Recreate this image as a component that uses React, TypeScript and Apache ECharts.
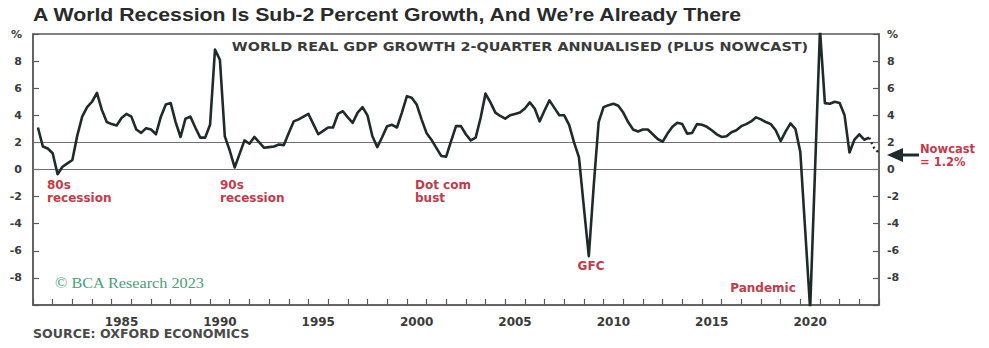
import React, { useEffect, useRef } from "react";
import * as echarts from "echarts";

// World real GDP growth, 2-quarter annualised (%), quarterly from 1981 Q2
const firstQuarter = 1981.25;
const growth1980s = [
  3.1, 1.7, 1.55,
  1.2, -0.35, 0.2, 0.45,
  0.7, 2.5, 3.9, 4.6,
  5.0, 5.65, 4.4, 3.5,
  3.35, 3.25, 3.8, 4.1,
  3.9, 2.95, 2.7, 3.05,
  2.95, 2.6, 3.9, 4.8,
  4.9, 3.5, 2.4, 3.75,
  3.9, 3.1, 2.35, 2.35,
];
const growth1990s = [
  3.3, 8.85, 8.1, 2.45,
  1.4, 0.15, 1.15, 2.15,
  1.9, 2.4, 2.0, 1.6,
  1.65, 1.7, 1.85, 1.8,
  2.7, 3.55, 3.7, 3.9,
  4.1, 3.35, 2.6, 2.85,
  3.1, 3.1, 4.1, 4.3,
  3.85, 3.45, 4.2, 4.6,
  4.0, 2.45, 1.65, 2.4,
  3.2, 3.3, 3.1, 4.2,
];
const growth2000s = [
  5.4, 5.3, 4.8, 3.7,
  2.7, 2.2, 1.6, 1.0,
  0.95, 2.1, 3.2, 3.2,
  2.6, 2.15, 2.35, 3.8,
  5.6, 4.95, 4.2, 3.95,
  3.75, 4.0, 4.1, 4.2,
  4.5, 4.95, 4.5, 3.55,
  4.35, 5.1, 4.55, 4.0,
  4.0, 3.3, 2.0, 0.9,
  -2.8, -6.4, -1.2, 3.5,
];
const growth2010s = [
  4.6, 4.75, 4.85, 4.7,
  4.2, 3.5, 2.95, 2.8,
  2.95, 2.95, 2.6, 2.25,
  2.05, 2.65, 3.15, 3.45,
  3.35, 2.65, 2.7, 3.35,
  3.3, 3.15, 2.9, 2.6,
  2.4, 2.45, 2.75, 2.9,
  3.2, 3.35, 3.55, 3.85,
  3.7, 3.5, 3.35, 2.9,
  2.1, 2.8, 3.4, 3.0,
];
const growth2020s = [
  1.3, -4.5, -10.3, 0,
  10.3, 4.9, 4.85, 5.0,
  4.9, 4.0, 1.25, 2.2,
  2.6, 2.2, 2.35,
];
const nowcastValues = [1.6, 1.2];

const yearLabels = [1985, 1990, 1995, 2000, 2005, 2010, 2015, 2020];
const yAxisUnitLabel = "%";
const referenceLevels = [0, 2];

const TITLE = "A World Recession Is Sub-2 Percent Growth, And We\u2019re Already There";
const SUBTITLE = "WORLD REAL GDP GROWTH 2-QUARTER ANNUALISED (PLUS NOWCAST)";
const SOURCE = "SOURCE: OXFORD ECONOMICS";
const COPYRIGHT = "\u00A9 BCA Research 2023";

const LINE = "#1f2a2a";
const RED = "#c23b4b";
const AXIS = "#5a5a5a";
const LABEL = "#3a3a3a";
const SANS = "DejaVu Sans";

export default function App() {
  const ref = useRef<HTMLDivElement>(null);

  useEffect(() => {
    if (!ref.current) return;
    const chart = echarts.init(ref.current, undefined, { renderer: "svg" });

    const actual = [...growth1980s, ...growth1990s, ...growth2000s, ...growth2010s, ...growth2020s];
    const actualData = actual.map((v, i) => [firstQuarter + i * 0.25, v]);
    const lastX = firstQuarter + (actual.length - 1) * 0.25;
    const nowcastData = [[lastX, actual[actual.length - 1]], ...nowcastValues.map((v, i) => [lastX + (i + 1) * 0.25, v])];

    const yLabelFmt = (v: number) => (v === 10 ? yAxisUnitLabel : v === -10 ? "" : String(v));
    const yAxisCommon = {
      type: "value",
      min: -10,
      max: 10,
      interval: 2,
      axisLine: { show: true, lineStyle: { color: AXIS, width: 1.5 } },
      axisTick: { show: true, inside: true, length: 6, lineStyle: { color: AXIS, width: 1.2 } },
      splitLine: { show: false },
    };

    chart.setOption({
      animation: false,
      backgroundColor: "#ffffff",
      grid: {
        left: 33,
        right: 110,
        top: 34,
        bottom: 43,
        show: true,
        borderColor: AXIS,
        borderWidth: 1.5,
        backgroundColor: "transparent",
      },
      xAxis: [
        {
          type: "value",
          min: 1981,
          max: 2024,
          interval: 1,
          axisLine: { show: true, onZero: false, lineStyle: { color: AXIS, width: 1.5 } },
          axisTick: { show: true, inside: true, length: 6, lineStyle: { color: AXIS, width: 1.2 } },
          axisLabel: { show: false },
          splitLine: { show: false },
        },
        {
          type: "value",
          position: "bottom",
          min: 1980.5,
          max: 2023.5,
          interval: 0.5,
          axisLine: { show: false },
          axisTick: { show: false },
          splitLine: { show: false },
          axisLabel: {
            show: true,
            margin: 11,
            color: LABEL,
            fontFamily: SANS,
            fontWeight: "bold",
            fontSize: 12,
            formatter: (v: number) => (yearLabels.includes(v) ? String(v) : ""),
          },
        },
      ],
      yAxis: [
        {
          ...yAxisCommon,
          position: "left",
          axisLabel: { margin: 11, color: LABEL, fontFamily: SANS, fontWeight: "bold", fontSize: 11, formatter: yLabelFmt },
        },
        {
          ...yAxisCommon,
          position: "right",
          axisLabel: { margin: 8, color: LABEL, fontFamily: SANS, fontWeight: "bold", fontSize: 11, formatter: yLabelFmt },
        },
      ],
      series: [
        {
          type: "line",
          name: "GDP growth",
          xAxisIndex: 0,
          yAxisIndex: 0,
          data: actualData,
          showSymbol: false,
          clip: true,
          lineStyle: { color: LINE, width: 2.6, join: "round" },
          z: 3,
          markLine: {
            silent: true,
            symbol: ["none", "none"],
            label: { show: false },
            lineStyle: { color: "#707070", width: 1.2, type: "solid" },
            data: referenceLevels.map((y) => ({ yAxis: y })),
            z: 1,
          },
        },
        {
          type: "line",
          name: "Nowcast",
          xAxisIndex: 0,
          yAxisIndex: 0,
          data: nowcastData,
          showSymbol: false,
          clip: false,
          lineStyle: { color: LINE, width: 2.4, type: [2, 3] },
          z: 3,
        },
      ],
      graphic: [
        {
          type: "text",
          x: 33,
          y: 14,
          scaleX: 1.12,
          style: { text: TITLE, fontFamily: "Liberation Sans", fontWeight: "bold", fontSize: 19, fill: "#2a2a2a", align: "left", verticalAlign: "middle" },
        },
        {
          type: "text",
          x: 520,
          y: 47,
          scaleX: 1.2,
          style: { text: SUBTITLE, fontFamily: SANS, fontWeight: "bold", fontSize: 12, fill: "#3b3b3b", align: "center", verticalAlign: "middle" },
        },
        {
          type: "text",
          x: 33,
          y: 334,
          scaleX: 1.05,
          style: { text: SOURCE, fontFamily: SANS, fontWeight: "bold", fontSize: 12, fill: "#4a4a4a", align: "left", verticalAlign: "middle" },
        },
        {
          type: "text",
          x: 55,
          y: 283,
          scaleX: 1.16,
          style: { text: COPYRIGHT, fontFamily: "Liberation Serif", fontSize: 14, fill: "#4a9e7e", align: "left", verticalAlign: "middle" },
        },
        {
          type: "text",
          x: 47,
          y: 178,
          style: { text: "80s\nrecession", fontFamily: SANS, fontWeight: "bold", fontSize: 12, lineHeight: 13, fill: RED, align: "left", verticalAlign: "top" },
        },
        {
          type: "text",
          x: 220,
          y: 178,
          style: { text: "90s\nrecession", fontFamily: SANS, fontWeight: "bold", fontSize: 12, lineHeight: 13, fill: RED, align: "left", verticalAlign: "top" },
        },
        {
          type: "text",
          x: 415,
          y: 178,
          style: { text: "Dot com\nbust", fontFamily: SANS, fontWeight: "bold", fontSize: 12, lineHeight: 13, fill: RED, align: "left", verticalAlign: "top" },
        },
        {
          type: "text",
          x: 591,
          y: 266,
          style: { text: "GFC", fontFamily: SANS, fontWeight: "bold", fontSize: 12, fill: RED, align: "center", verticalAlign: "middle" },
        },
        {
          type: "text",
          x: 763,
          y: 288,
          style: { text: "Pandemic", fontFamily: SANS, fontWeight: "bold", fontSize: 12, fill: RED, align: "center", verticalAlign: "middle" },
        },
        {
          type: "text",
          x: 920,
          y: 142,
          style: { text: "Nowcast\n= 1.2%", fontFamily: SANS, fontWeight: "bold", fontSize: 11.5, lineHeight: 13, fill: RED, align: "left", verticalAlign: "top" },
        },
        {
          type: "line",
          shape: { x1: 900, y1: 155, x2: 919, y2: 155 },
          style: { stroke: LINE, lineWidth: 3 },
        },
        {
          type: "polygon",
          shape: { points: [[887, 155], [903, 148], [903, 162]] },
          style: { fill: LINE },
        },
      ],
    });

    return () => chart.dispose();
  }, []);

  return (
    <div
      ref={ref}
      style={{ position: "fixed", left: 0, top: 0, width: 989, height: 348, background: "#fff" }}
    />
  );
}
